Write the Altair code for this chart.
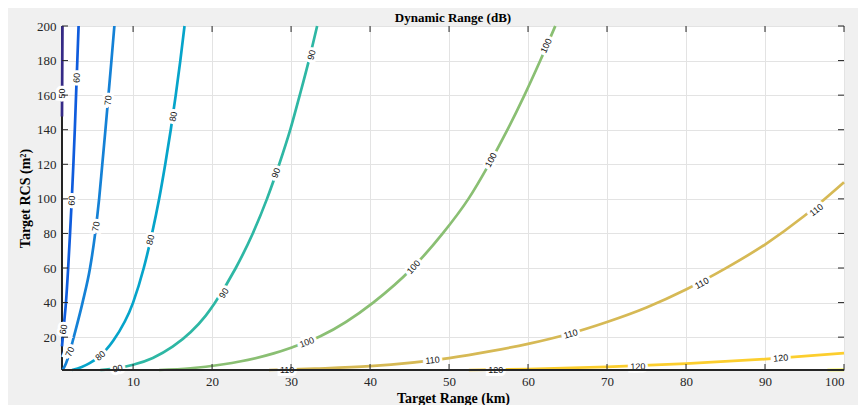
import altair as alt
import pandas as pd

# ---- contour levels and colours (parula-like) ----
levels = [50, 60, 70, 80, 90, 100, 110, 120, 130]
colors = ["#352a87", "#0f5cdd", "#1481d6", "#06a4ca", "#2eb7a4",
          "#8abf73", "#d6b955", "#fcce2e", "#f9fb0e"]

# ---- contour lines: range (km), RCS (m^2) ----
r50 = [1.0, 1.03, 1.06]
s50 = [147.6, 175, 200]
r60 = [1.0, 1.24, 1.5, 1.78, 2.02, 2.24, 2.44, 2.62, 2.78, 2.94, 3.1]
s60 = [14.6, 27, 40, 60, 80, 100, 120, 140, 160, 180, 200]
r70 = [1.08, 1.5, 2.0, 2.4, 3.6, 4.55, 5.2, 5.7, 6.1, 6.5, 6.88, 7.26, 7.63]
s70 = [1.0, 4.8, 11.5, 18.5, 40, 60, 80, 100, 120, 140, 160, 180, 200]
r80 = [2.27, 3.5, 4.5, 5.6, 7.5, 10.0, 11.35, 12.4, 13.3, 14.07, 14.77, 15.4, 15.98, 16.51]
s80 = [1.0, 2.8, 5.0, 8.3, 18, 40, 60, 80, 100, 120, 140, 160, 180, 200]
r90 = [5.85, 8.0, 10.0, 12.5, 15.0, 17.3, 19.2, 20.3, 23.0, 25.15, 26.95, 28.5, 29.9, 31.1, 32.25, 33.3]
s90 = [1.0, 2.1, 4.0, 8.0, 14.5, 23.0, 32.5, 39.5, 60, 80, 100, 120, 140, 160, 180, 200]
r100 = [13.3, 17.26, 19.2, 23.5, 27.8, 30.0, 33.7, 40.4, 45.35, 49.2, 52.45, 55.05, 57.4, 59.55, 61.55, 63.45]
s100 = [1.0, 2.0, 2.9, 5.9, 10.6, 13.9, 20.5, 40, 60, 80, 100, 120, 140, 160, 180, 200]
r110 = [27.2, 33.0, 40.0, 50.0, 55.3, 60.0, 65.0, 70.0, 75.0, 80.0, 85.0, 90.0, 95.0, 100.0]
s110 = [1.0, 1.8, 3.2, 7.9, 11.9, 16.1, 21.7, 28.8, 37.2, 47.6, 59.8, 73.6, 90.2, 109.6]
r120 = [52.5, 60.0, 70.0, 80.0, 90.0, 100.0]
s120 = [1.0, 1.58, 2.8, 4.7, 7.3, 10.75]
r130 = [97.9, 100.0]
s130 = [1.0, 1.09]

# ---- inline contour labels: level, range, RCS, rotation (deg, clockwise) ----
lab_level = [50, 60, 60, 60, 70, 70, 70, 80, 80, 80, 90, 90, 90, 90,
             100, 100, 100, 100, 110, 110, 110, 110, 110, 120, 120, 120]
lab_r = [1.0, 2.86, 2.24, 1.18, 6.83, 5.3, 2.0, 15.1, 12.2, 5.85, 8.05, 21.5, 28.1, 32.6,
         32.0, 45.5, 55.3, 62.3, 29.5, 47.9, 65.4, 82.0, 96.5, 55.9, 73.9, 92.0]
lab_s = [161, 170, 99, 24.5, 157, 84, 11.5, 147.6, 76.3, 9.2, 1.8, 45.4, 115, 183.2,
         17.0, 60.5, 122.5, 188.6, 1.05, 6.7, 21.9, 51.2, 93.6, 1.1, 3.0, 7.9]
lab_ang = [270, 272, 273, 280, 277, 280, 292, 281, 285, 320, 348, 302, 291, 284,
           339, 312, 298, 295, 0, 354, 344, 331, 322, 0, 358, 355]

x_ticks = [10, 20, 30, 40, 50, 60, 70, 80, 90, 100]
y_ticks = [20, 40, 60, 80, 100, 120, 140, 160, 180, 200]
title_text = "Dynamic Range (dB)"

W, H = 782, 344

rows = []
for lev, rr, ss in zip(levels, [r50, r60, r70, r80, r90, r100, r110, r120, r130],
                       [s50, s60, s70, s80, s90, s100, s110, s120, s130]):
    for i, (a, b) in enumerate(zip(rr, ss)):
        rows.append({"level": lev, "R": a, "S": b, "idx": i})
lines_df = pd.DataFrame(rows)

labels_df = pd.DataFrame({"level": lab_level, "R": lab_r, "S": lab_s, "ang": lab_ang})
labels_df["txt"] = labels_df["level"].astype(str)

xt_df = pd.DataFrame({"R": x_ticks})
yt_df = pd.DataFrame({"S": y_ticks})

serif = "Liberation Serif"
xscale = alt.Scale(domain=[1, 100], nice=False, zero=False)
yscale = alt.Scale(domain=[1, 200], nice=False, zero=False)
xaxis = alt.Axis(values=x_ticks, title="Target Range (km)", grid=True, domain=False,
                 ticks=False, tickSize=0, labelFont=serif, labelFontSize=13,
                 labelColor="#262626", labelPadding=5, titleFont=serif,
                 titleFontSize=14, titleFontWeight="bold", titleColor="black",
                 titleBaseline="alphabetic", titleY=32, gridColor="#e3e3e3")
yaxis = alt.Axis(values=y_ticks, title="Target RCS (m²)", grid=True, domain=False,
                 ticks=False, tickSize=0, labelFont=serif, labelFontSize=13,
                 labelColor="#262626", labelPadding=6, titleFont=serif,
                 titleFontSize=14, titleFontWeight="bold", titleColor="black",
                 titleX=-30, titleY=172, gridColor="#e3e3e3")

X = alt.X("R:Q", scale=xscale, axis=xaxis)
Y = alt.Y("S:Q", scale=yscale, axis=yaxis)

tick_col = "#262626"
left_line = alt.Chart(xt_df).mark_rule(color=tick_col, strokeWidth=1.2).encode(
    x=alt.value(0), y=alt.value(0), y2=alt.value(H))

lines = alt.Chart(lines_df).mark_line(strokeWidth=2.7, clip=False,
                                      interpolate="monotone").encode(
    x=X, y=Y,
    color=alt.Color("level:N", scale=alt.Scale(domain=levels, range=colors), legend=None),
    detail="level:N",
    order=alt.Order("idx:Q"),
)

halo = alt.Chart(labels_df).mark_text(font="Liberation Sans", fontSize=9, fill="white",
                                      stroke="white", strokeWidth=6).encode(
    x=X, y=Y, text="txt:N", angle=alt.Angle("ang:Q", scale=None))

texts = alt.Chart(labels_df).mark_text(font="Liberation Sans", fontSize=9,
                                       color="#111111").encode(
    x=X, y=Y, text="txt:N", angle=alt.Angle("ang:Q", scale=None))

bottom_ticks = alt.Chart(xt_df).mark_rule(color=tick_col, strokeWidth=1).encode(
    x=X, y=alt.value(H), y2=alt.value(H - 6))
top_ticks = alt.Chart(xt_df).mark_rule(color=tick_col, strokeWidth=1).encode(
    x=X, y=alt.value(0), y2=alt.value(6))
left_ticks = alt.Chart(yt_df).mark_rule(color=tick_col, strokeWidth=1).encode(
    y=Y, x=alt.value(0), x2=alt.value(6))
right_ticks = alt.Chart(yt_df).mark_rule(color=tick_col, strokeWidth=1).encode(
    y=Y, x=alt.value(W), x2=alt.value(W - 6))

bottom_line = alt.Chart(xt_df).mark_rule(color=tick_col, strokeWidth=1.2).encode(
    x=alt.value(0), x2=alt.value(W), y=alt.value(H))

title_mark = alt.Chart(pd.DataFrame({"t": [title_text]})).mark_text(
    font=serif, fontSize=13, fontWeight="bold", color="black",
    baseline="alphabetic", align="center").encode(
    x=alt.value(W / 2), y=alt.value(-4), text="t:N")

chart = alt.layer(
    left_line, lines, halo, texts, bottom_ticks, top_ticks, left_ticks, right_ticks,
    bottom_line, title_mark
).properties(
    width=W, height=H,
    autosize=alt.AutoSizeParams(type="none"),
    padding={"left": 54, "top": 18, "right": 14, "bottom": 40},
).configure(
    background="#f0f0f0",
).configure_view(
    fill="white", stroke="#7a7a7a", strokeWidth=1,
)

chart.save("out.html", embed_options={"renderer": "svg", "actions": False})
